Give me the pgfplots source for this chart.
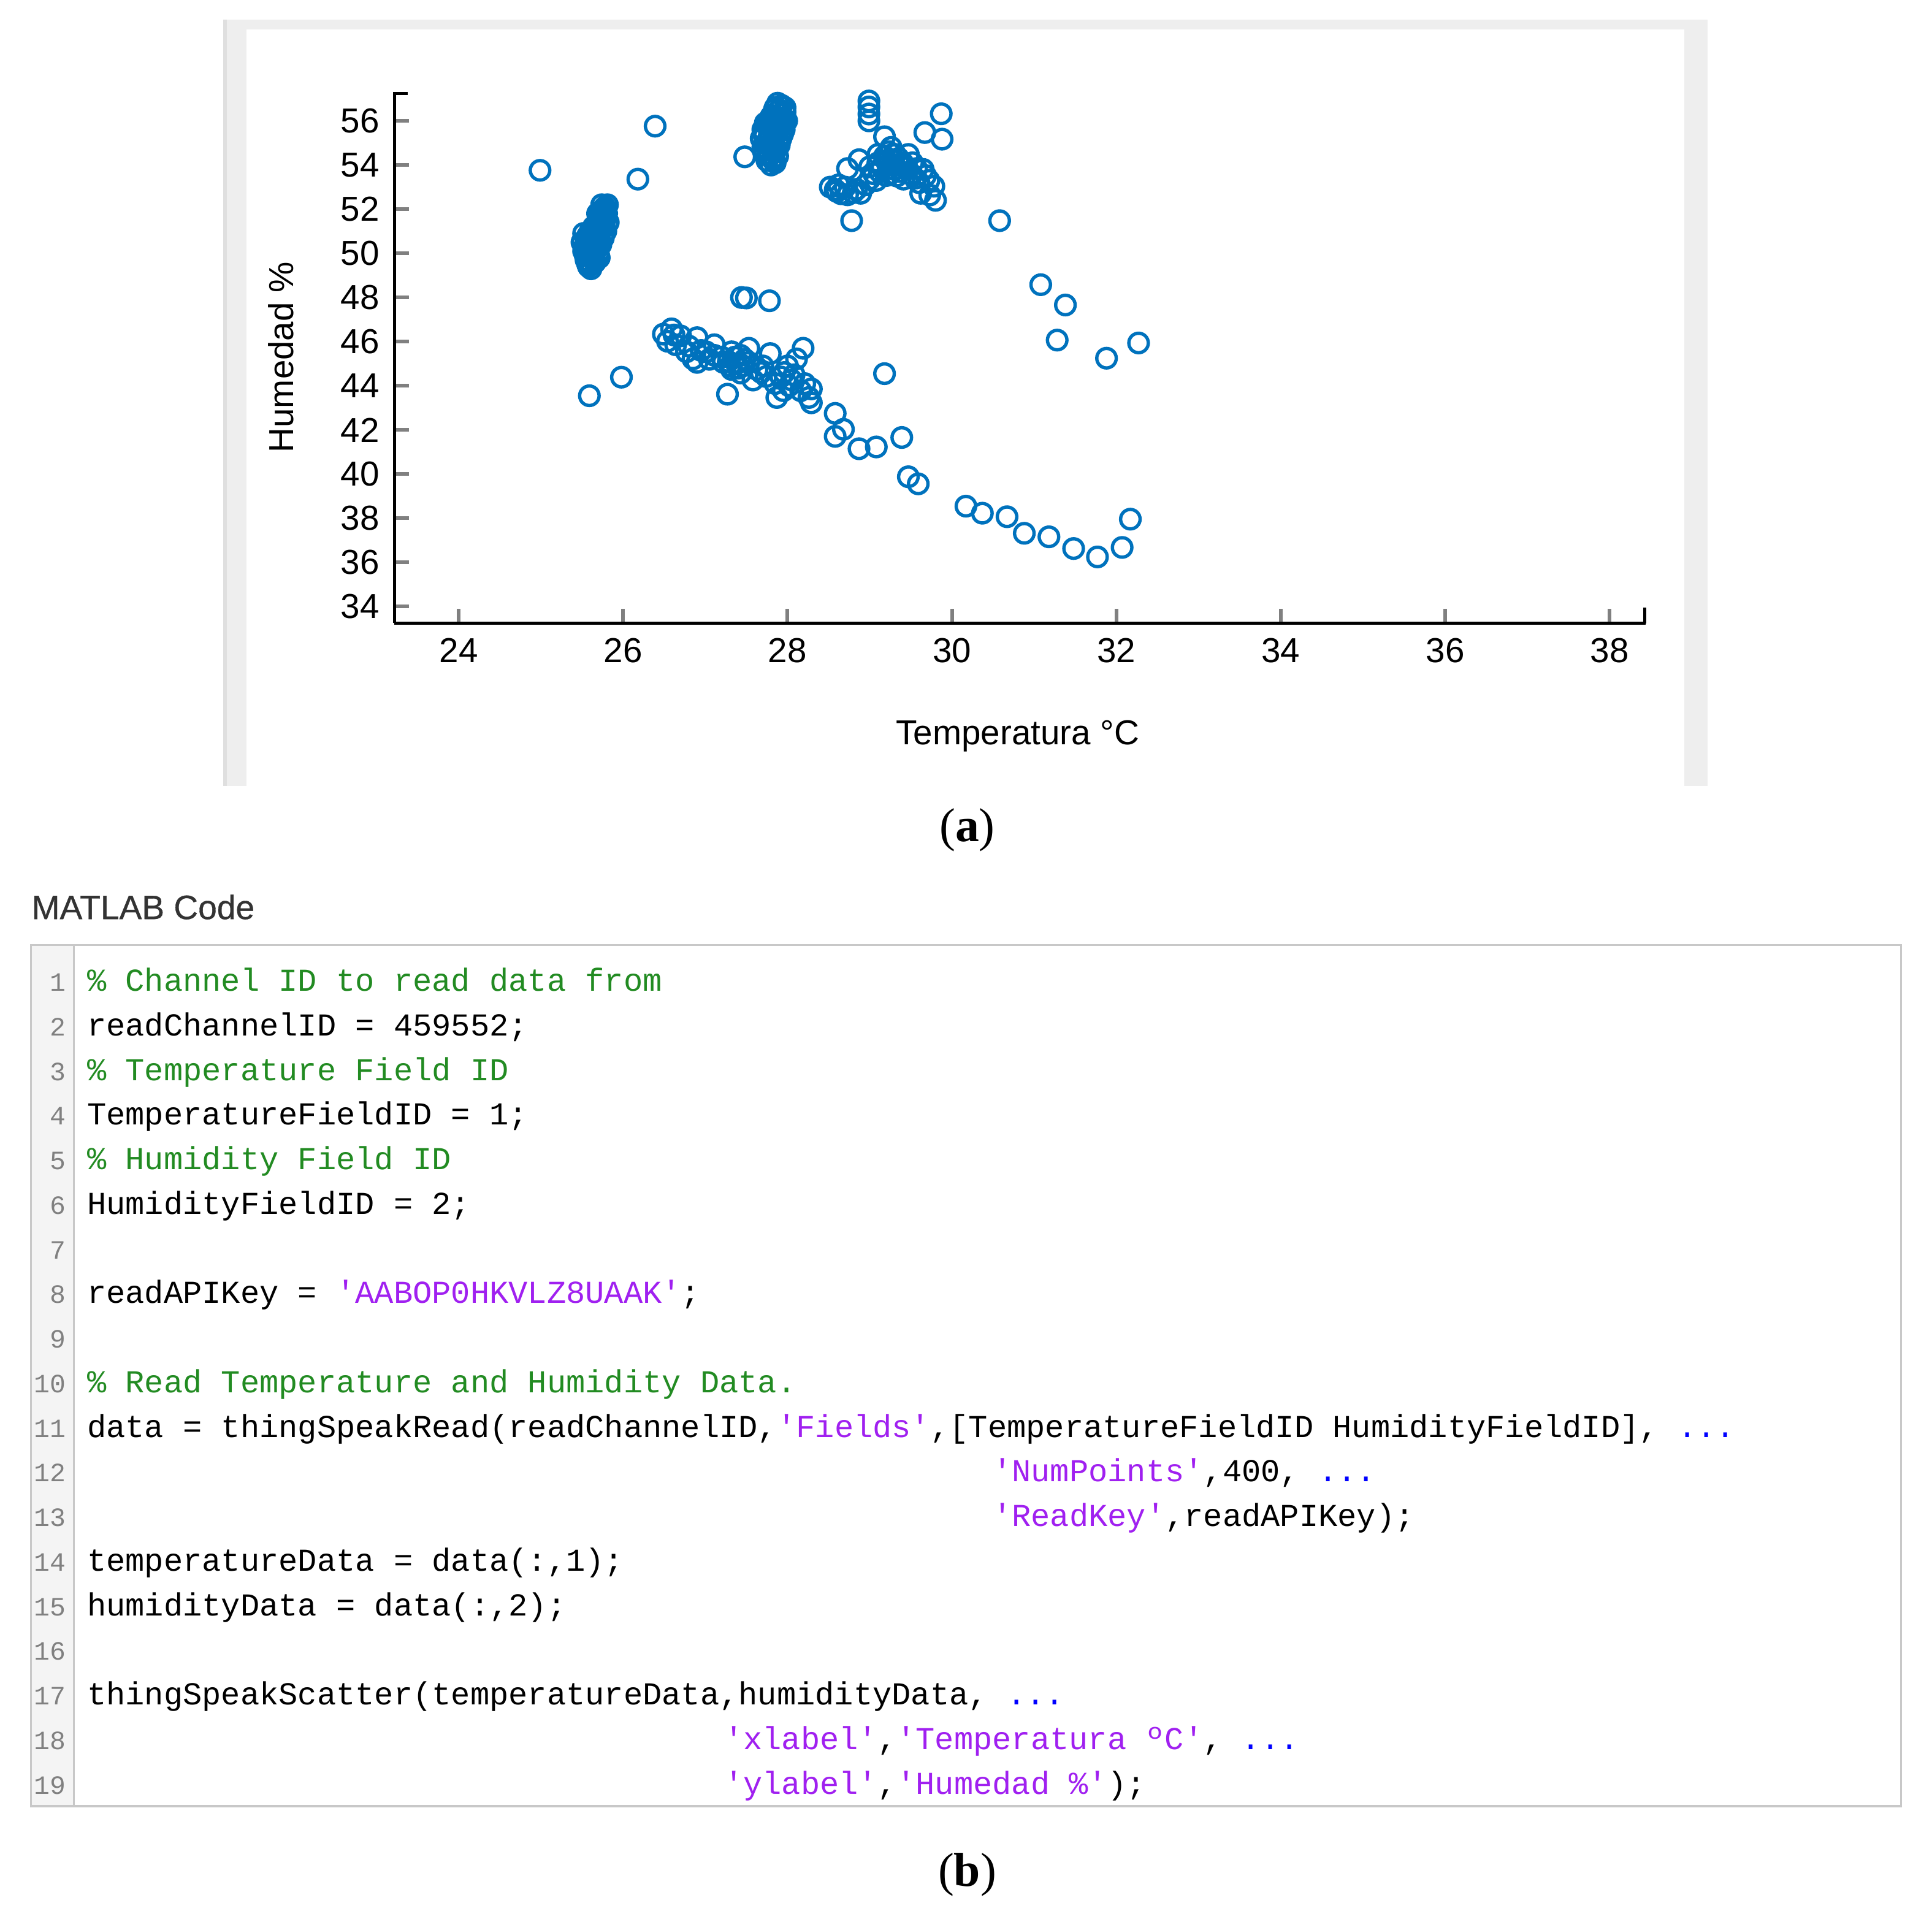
\documentclass[border=0pt]{standalone}
\usepackage{fontspec}
\usepackage{pgfplots}
\pgfplotsset{compat=1.18}
\setmainfont{Liberation Serif}
\newfontfamily\chartfont{Liberation Sans}
\newfontfamily\headfont[FakeBold=0.6]{Liberation Sans}
\newfontfamily\codefont[Ligatures=TeXOff]{Liberation Mono}

\definecolor{mblue}{HTML}{0072BD}
\definecolor{mgreen}{HTML}{228B22}
\definecolor{mpurple}{HTML}{A020F0}
\definecolor{mdots}{HTML}{0000FF}
\definecolor{panelgray}{HTML}{EEEEEE}
\definecolor{boxgray}{HTML}{C8C8C8}
\definecolor{guttergray}{HTML}{F4F4F4}
\definecolor{numgray}{HTML}{808080}

\newcommand{\chartsize}{\chartfont\fontsize{8}{9.6}\selectfont}
\newcommand{\codesize}{\codefont\fontsize{7.37}{9}\selectfont}
\newcommand{\numsize}{\codefont\fontsize{6.1}{8}\selectfont}
\newcommand{\cmt}[1]{\textcolor{mgreen}{#1}}
\newcommand{\str}[1]{\textcolor{mpurple}{#1}}
\newcommand{\dts}{\textcolor{mdots}{...}}
% one line of code: [x start]{line number}{text}
\newcommand{\codeln}[3][70]{\node[anchor=base west,inner sep=0,font=\codesize] at (#1,{804.5+36.2*(#2-1)}) {#3};}

\begin{document}
\begin{tikzpicture}
\begin{scope}[x=0.01cm,y=-0.01cm]
  \path[use as bounding box] (0,0) rectangle (1568,1551);
  % chart panel
  \fill[panelgray] (181,16) rectangle (1386,638);
  \fill[gray!25] (181,16) rectangle (184,638);
  \fill[white] (200,24) rectangle (1367,638);
\end{scope}

\begin{axis}[
    at={(3.20cm,-5.055cm)}, anchor=south west,
    scale only axis, width=10.15cm, height=4.295cm,
    xmin=23.22, xmax=38.44, ymin=33.25, ymax=57.23,
    axis lines*=left,
    axis line style={black, line width=0.025cm},
    xtick={24,26,...,38}, ytick={34,36,...,56},
    tick align=inside, major tick length=0.115cm,
    tick style={color=numgray, line width=0.03cm},
    ticklabel style={font=\chartsize},
    /pgf/number format/assume math mode=true,
    clip=false,
]
\addplot[only marks, mark=o, mark size=2.25pt, mblue, mark options={line width=0.027cm}] coordinates {
    % isolated
    (24.99,53.76) (26.39,55.76) (26.18,53.36) (25.59,43.55) (25.98,44.39)
    % cluster near 25.6 / 50
    (25.52,50.9) (25.50,50.5) (25.52,50.1) (25.55,49.7) (25.58,49.4) (25.62,49.5)
    (25.65,49.8) (25.60,50.2) (25.63,50.6) (25.57,50.8) (25.66,50.3) (25.68,50.9)
    (25.70,51.3) (25.72,51.6) (25.75,51.9) (25.78,52.1) (25.80,51.8) (25.82,51.4)
    (25.79,51.0) (25.76,50.7) (25.73,50.4) (25.70,50.0) (25.66,49.6) (25.55,50.3)
    (25.60,51.0) (25.64,51.2) (25.69,51.8) (25.74,52.2) (25.81,52.2) (25.77,51.2)
    (25.54,49.9) (25.61,49.3) (25.71,49.8) (25.68,50.6) (25.58,50.0)
    (25.56,50.6) (25.59,50.4) (25.62,50.0) (25.64,49.7) (25.60,49.6) (25.57,49.5)
    (25.66,50.1) (25.69,50.4) (25.71,50.7) (25.73,51.0) (25.74,51.4) (25.76,51.6)
    (25.78,51.5) (25.71,51.1) (25.67,50.7) (25.63,50.9) (25.65,51.0) (25.72,51.9)
    (25.79,51.7) (25.76,52.0) (25.53,50.3) (25.58,50.7) (25.62,50.4) (25.68,50.2)
    % cluster near 27.85 / 55
    (27.48,54.37)
    (27.70,55.6) (27.68,55.2) (27.70,54.8) (27.72,54.5) (27.75,54.2) (27.80,54.0)
    (27.85,54.1) (27.88,54.4) (27.85,54.8) (27.80,55.0) (27.78,55.4) (27.75,55.8)
    (27.82,55.9) (27.86,56.2) (27.84,56.5) (27.88,56.8) (27.93,56.7) (27.97,56.4)
    (27.99,56.0) (27.96,55.6) (27.92,55.2) (27.90,55.8) (27.92,56.3) (27.74,55.0)
    (27.83,54.6) (27.90,54.9) (27.95,55.9) (27.87,55.5) (27.80,56.2) (27.73,55.9)
    (27.72,55.3) (27.76,54.7) (27.78,54.4) (27.82,54.3) (27.84,55.2) (27.82,55.6)
    (27.79,55.8) (27.88,56.0) (27.90,56.5) (27.95,56.1) (27.94,55.4) (27.89,55.1)
    (27.86,54.7) (27.77,55.2) (27.71,55.4) (27.85,56.6) (27.97,56.6) (27.83,54.2)
    % cluster near 29.2 / 53.5
    (28.99,56.9) (28.99,56.63) (28.99,56.31) (28.99,56.0)
    (29.18,55.28) (29.87,56.32) (29.67,55.47) (29.88,55.17)
    (28.52,53.0) (28.58,52.88) (28.65,52.7) (28.73,52.65) (28.80,52.75) (28.89,52.72)
    (28.62,53.1) (28.73,53.84) (28.87,54.24) (29.10,54.48) (29.26,54.8) (29.36,54.0)
    (29.20,53.52) (29.47,54.48) (29.57,53.84) (29.68,53.52) (29.78,53.04) (29.73,52.64)
    (29.80,52.40) (29.62,52.72) (29.00,53.36) (29.00,53.92) (29.41,53.36) (29.31,54.48)
    (29.15,53.90) (29.25,53.60) (29.50,53.60) (29.10,54.10) (29.35,54.30) (29.45,53.90)
    (29.20,54.20) (29.60,53.20) (29.05,53.60) (28.78,51.48)
    (29.22,54.00) (29.30,53.80) (29.28,54.20) (29.18,54.40) (29.40,54.10) (29.38,53.70)
    (29.12,53.70) (29.52,54.10) (29.33,53.50) (29.23,54.60) (29.55,53.40) (29.65,53.80)
    (29.72,53.30) (28.70,53.00) (28.84,52.90) (28.95,53.10) (29.08,53.30) (28.60,52.80)
    (30.58,51.48) (31.08,48.58) (31.38,47.66) (31.28,46.07) (31.88,45.25) (32.27,45.94)
    % lower band
    (27.44,48.00) (27.50,47.98) (27.78,47.85)
    (26.49,46.34) (26.59,46.58) (26.70,46.26) (26.54,46.02) (26.77,45.54) (26.90,46.18)
    (26.85,45.22) (27.01,45.54) (27.11,45.38) (27.22,45.06) (27.32,45.54) (27.32,44.74)
    (27.43,45.38) (27.53,45.70) (27.53,45.06) (27.27,43.62) (27.63,44.74) (27.79,45.46)
    (27.74,44.42) (27.85,44.10) (27.87,43.47) (28.00,44.90) (28.05,44.26) (28.19,45.70)
    (28.11,45.22) (28.21,44.10) (28.26,43.47) (28.29,43.23) (28.16,43.78) (28.29,43.86)
    (26.90,45.06) (26.64,45.86) (27.11,45.86) (27.43,44.58) (27.58,44.26) (27.95,43.78)
    (27.20,45.30) (27.28,45.10) (27.38,45.00) (27.36,45.30) (27.46,44.90) (27.48,45.20)
    (27.40,44.80) (27.30,44.90) (27.68,44.60) (27.70,44.90) (27.92,44.40) (28.02,44.00)
    (28.08,44.50) (27.96,44.60) (26.80,45.80) (26.95,45.60) (27.05,45.20) (26.62,46.30)
    (29.18,44.55)
    % descending chain
    (28.58,42.75) (28.68,42.03) (28.58,41.71) (28.87,41.15) (29.08,41.23) (29.39,41.66)
    (29.47,39.88) (29.59,39.56) (30.17,38.55) (30.37,38.23) (30.67,38.07) (30.88,37.32)
    (31.18,37.16) (31.48,36.63) (31.77,36.25) (32.07,36.68) (32.17,37.96)
};
\end{axis}

\begin{scope}[x=0.01cm,y=-0.01cm]
  % axis end caps
  \draw[black, line width=0.025cm] (319,76) -- (331,76);
  \draw[black, line width=0.025cm] (1335,506) -- (1335,493);
  % axis labels
  \node[rotate=90, anchor=base, inner sep=0, font=\chartsize] at (238.3,290) {Humedad \%};
  \node[anchor=base, inner sep=0, font=\chartsize] at (826,604.6) {Temperatura °C};
  % caption (a)
  \node[anchor=base, inner sep=0, font=\fontsize{11}{13}\selectfont] at (785,683) {(\textbf{a})};

  % code panel
  \node[anchor=base west, inner sep=0, text=black!80, font=\headfont\fontsize{7.8}{9}\selectfont] at (25,746) {MATLAB Code};
  \fill[guttergray] (25,767) rectangle (60,1466);
  \draw[boxgray, line width=0.017cm] (60,767) -- (60,1466);
  \draw[boxgray, line width=0.017cm] (25,767) rectangle (1543,1466);
  \foreach \i in {1,...,19}
    \node[anchor=base east, inner sep=0, text=numgray, font=\numsize] at (54,{804.5+36.2*(\i-1)}) {\i};

  \codeln{1}{\cmt{\% Channel ID to read data from}}
  \codeln{2}{readChannelID = 459552;}
  \codeln{3}{\cmt{\% Temperature Field ID}}
  \codeln{4}{TemperatureFieldID = 1;}
  \codeln{5}{\cmt{\% Humidity Field ID}}
  \codeln{6}{HumidityFieldID = 2;}
  \codeln{8}{readAPIKey = \str{'AABOP0HKVLZ8UAAK'};}
  \codeln{10}{\cmt{\% Read Temperature and Humidity Data.}}
  \codeln{11}{data = thingSpeakRead(readChannelID,\str{'Fields'},[TemperatureFieldID HumidityFieldID], \dts}
  \codeln[805]{12}{\str{'NumPoints'},400, \dts}
  \codeln[805]{13}{\str{'ReadKey'},readAPIKey);}
  \codeln{14}{temperatureData = data(:,1);}
  \codeln{15}{humidityData = data(:,2);}
  \codeln{17}{thingSpeakScatter(temperatureData,humidityData, \dts}
  \codeln[587]{18}{\str{'xlabel'},\str{'Temperatura ºC'}, \dts}
  \codeln[587]{19}{\str{'ylabel'},\str{'Humedad \%'});}

  % caption (b)
  \node[anchor=base, inner sep=0, font=\fontsize{11}{13}\selectfont] at (785,1531) {(\textbf{b})};
\end{scope}
\end{tikzpicture}
\end{document}
